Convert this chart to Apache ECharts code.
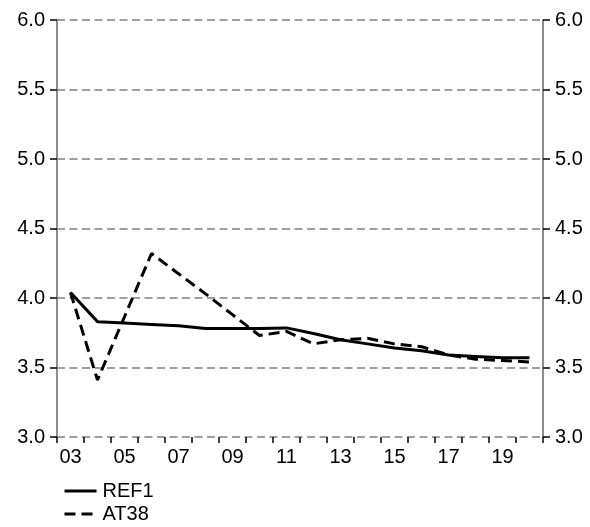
<!DOCTYPE html>
<html>
<head>
<meta charset="utf-8">
<script src="https://cdn.jsdelivr.net/npm/echarts@6/dist/echarts.min.js"></script>
<style>
  html, body { margin: 0; padding: 0; background: #fff; }
  #chart { width: 590px; height: 527px; }
</style>
</head>
<body>
<div id="chart"></div>
<script>
// Years 2003-2020, shown as two-digit labels
const years = ['03','04','05','06','07','08','09','10','11','12','13','14','15','16','17','18','19','20'];

const ref1 = [4.04, 3.83, 3.82, 3.81, 3.80, 3.78, 3.78, 3.78, 3.785, 3.745, 3.70, 3.67, 3.64, 3.62, 3.59, 3.58, 3.57, 3.57];
const at38 = [4.04, 3.41, 3.865, 4.32, 4.175, 4.03, 3.88, 3.73, 3.76, 3.67, 3.70, 3.71, 3.67, 3.65, 3.59, 3.56, 3.55, 3.54];

const yMin = 3.0, yMax = 6.0, yStep = 0.5;

const font = 'Liberation Sans, Arial, sans-serif';
const fontSize = 20;

function valueAxis(side) {
  return {
    type: 'value',
    position: side,
    min: yMin,
    max: yMax,
    interval: yStep,
    axisLine: { show: true, lineStyle: { color: '#8c8c8c', width: 2 } },
    axisTick: { show: true, inside: false, length: 7, lineStyle: { color: '#000', width: 1.5 } },
    axisLabel: {
      color: '#000', fontSize: fontSize, fontFamily: font, margin: 12,
      formatter: v => v.toFixed(1)
    },
    splitLine: side === 'left'
      ? { show: true, lineStyle: { color: '#808080', type: [8, 4.5], width: 1.5 } }
      : { show: false }
  };
}

// One legend box per series, stacked under the x axis
function legendRow(name, top) {
  return {
    orient: 'vertical',
    left: 63,
    top: top,
    padding: 0,
    itemWidth: 32,
    itemHeight: 12,
    itemStyle: { opacity: 0 },
    lineStyle: { width: 3 },
    textStyle: { color: '#000', fontSize: fontSize, fontFamily: font, padding: [0, 0, 0, 1] },
    data: [name]
  };
}

const chart = echarts.init(document.getElementById('chart'), null, { renderer: 'canvas' });
chart.setOption({
  animation: false,
  backgroundColor: '#fff',
  grid: { left: 57, right: 47, top: 20, bottom: 90 },
  xAxis: {
    type: 'category',
    data: years,
    boundaryGap: true,
    axisLine: { show: false },
    axisTick: { show: true, interval: 0, length: 6, lineStyle: { color: '#000', width: 1.5 } },
    axisLabel: { interval: 1, color: '#000', fontSize: fontSize, fontFamily: font, margin: 10 }
  },
  yAxis: [valueAxis('left'), valueAxis('right')],
  legend: [legendRow('REF1', 481), legendRow('AT38', 504)],
  series: [
    {
      name: 'REF1', type: 'line', data: ref1, yAxisIndex: 0,
      symbol: 'none', color: '#000',
      lineStyle: { color: '#000', width: 3, type: 'solid' }
    },
    {
      name: 'AT38', type: 'line', data: at38, yAxisIndex: 0,
      symbol: 'none', color: '#000',
      lineStyle: { color: '#000', width: 3, type: [11, 6] }
    }
  ]
});
</script>
</body>
</html>
